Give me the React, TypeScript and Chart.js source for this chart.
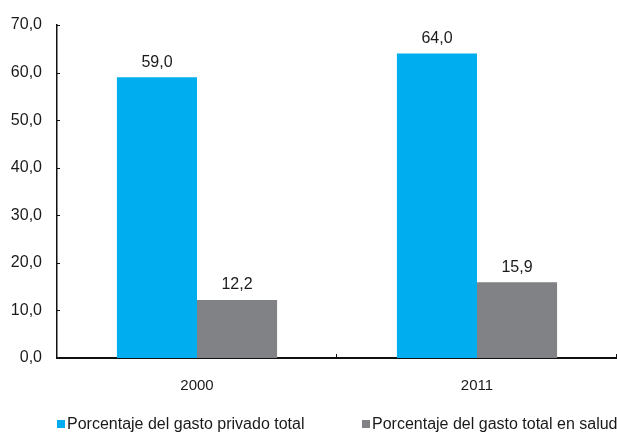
import React, { useEffect, useRef } from "react";
import { Chart, registerables } from "chart.js";

Chart.register(...registerables);

const categories = ["2000", "2011"];
const seriesNames = [
  "Porcentaje del gasto privado total",
  "Porcentaje del gasto total en salud",
];
const privateShare = [59.0, 64.0];
const healthShare = [12.2, 15.9];
const seriesColors = ["#00AEEF", "#808285"];
const yTicks = [0, 10, 20, 30, 40, 50, 60, 70];

const FONT = '"Liberation Sans", Arial, Helvetica, sans-serif';
const TEXT = "#1a1a1a";
const fmt = (v: number) => v.toFixed(1).replace(".", ",");

// Value labels above each bar
const valueLabels = {
  id: "valueLabels",
  afterDatasetsDraw(chart: any) {
    const ctx = chart.ctx;
    ctx.save();
    ctx.font = `16px ${FONT}`;
    ctx.fillStyle = TEXT;
    ctx.textAlign = "center";
    ctx.textBaseline = "bottom";
    chart.data.datasets.forEach((ds: any, di: number) => {
      const meta = chart.getDatasetMeta(di);
      meta.data.forEach((el: any, i: number) => {
        ctx.fillText(fmt(ds.data[i]), el.x, el.y - 7);
      });
    });
    ctx.restore();
  },
};

// Short inward ticks on both axes
const innerTicks = {
  id: "innerTicks",
  afterDraw(chart: any) {
    const ctx = chart.ctx;
    const { left, right, bottom } = chart.chartArea;
    const y = chart.scales.y;
    ctx.save();
    ctx.strokeStyle = "#111";
    ctx.lineWidth = 1;
    yTicks.forEach((v) => {
      const py = Math.round(y.getPixelForValue(v)) + 0.5;
      ctx.beginPath();
      ctx.moveTo(left, py);
      ctx.lineTo(left + 3, py);
      ctx.stroke();
    });
    const n = categories.length;
    for (let i = 1; i <= n; i++) {
      const px = Math.round(left + ((right - left) * i) / n) - 0.5;
      ctx.beginPath();
      ctx.moveTo(px, bottom);
      ctx.lineTo(px, bottom - 4);
      ctx.stroke();
    }
    ctx.restore();
  },
};

// Legend row under the axis, laid out from the plot's left edge
const bottomLegend = {
  id: "bottomLegend",
  afterDraw(chart: any) {
    const ctx = chart.ctx;
    const { left } = chart.chartArea;
    const yMid = 424;
    const offsets = [0, 305];
    ctx.save();
    ctx.font = `16px ${FONT}`;
    ctx.textBaseline = "middle";
    ctx.textAlign = "left";
    seriesNames.forEach((name, i) => {
      const x = left + offsets[i];
      ctx.fillStyle = seriesColors[i];
      ctx.fillRect(x, yMid - 4, 8, 8);
      ctx.fillStyle = TEXT;
      ctx.fillText(name, x + 10, yMid + 1);
    });
    ctx.restore();
  },
};

export default function App() {
  const ref = useRef<HTMLCanvasElement>(null);

  useEffect(() => {
    document.body.style.margin = "0";
    document.body.style.overflow = "hidden";
    const chart = new Chart(ref.current!, {
      type: "bar",
      data: {
        labels: categories,
        datasets: [
          {
            label: seriesNames[0],
            data: privateShare,
            backgroundColor: seriesColors[0],
            barPercentage: 1,
            categoryPercentage: 0.572,
          },
          {
            label: seriesNames[1],
            data: healthShare,
            backgroundColor: seriesColors[1],
            barPercentage: 1,
            categoryPercentage: 0.572,
          },
        ],
      },
      options: {
        animation: false,
        responsive: false,
        layout: { padding: { top: 25, right: 0, bottom: 0, left: 0 } },
        plugins: { legend: { display: false }, tooltip: { enabled: false } },
        scales: {
          x: {
            grid: { display: false },
            border: { color: "#111", width: 2 },
            ticks: {
              color: TEXT,
              font: { family: FONT, size: 15 },
              padding: 11,
            },
            afterFit(scale: any) {
              scale.height = 76;
            },
          },
          y: {
            min: 0,
            max: 70,
            afterBuildTicks(scale: any) {
              scale.ticks = yTicks.map((v) => ({ value: v }));
            },
            grid: { display: false },
            border: { color: "#111", width: 1.5 },
            ticks: {
              color: TEXT,
              font: { family: FONT, size: 16 },
              padding: 7,
              callback: (v: any) => fmt(Number(v)),
            },
            afterFit(scale: any) {
              scale.width = 57;
            },
          },
        },
      },
      plugins: [valueLabels, innerTicks, bottomLegend],
    });
    return () => chart.destroy();
  }, []);

  return (
    <div style={{ width: 617, height: 434, background: "#fff" }}>
      <canvas ref={ref} width={617} height={434} style={{ display: "block" }} />
    </div>
  );
}
